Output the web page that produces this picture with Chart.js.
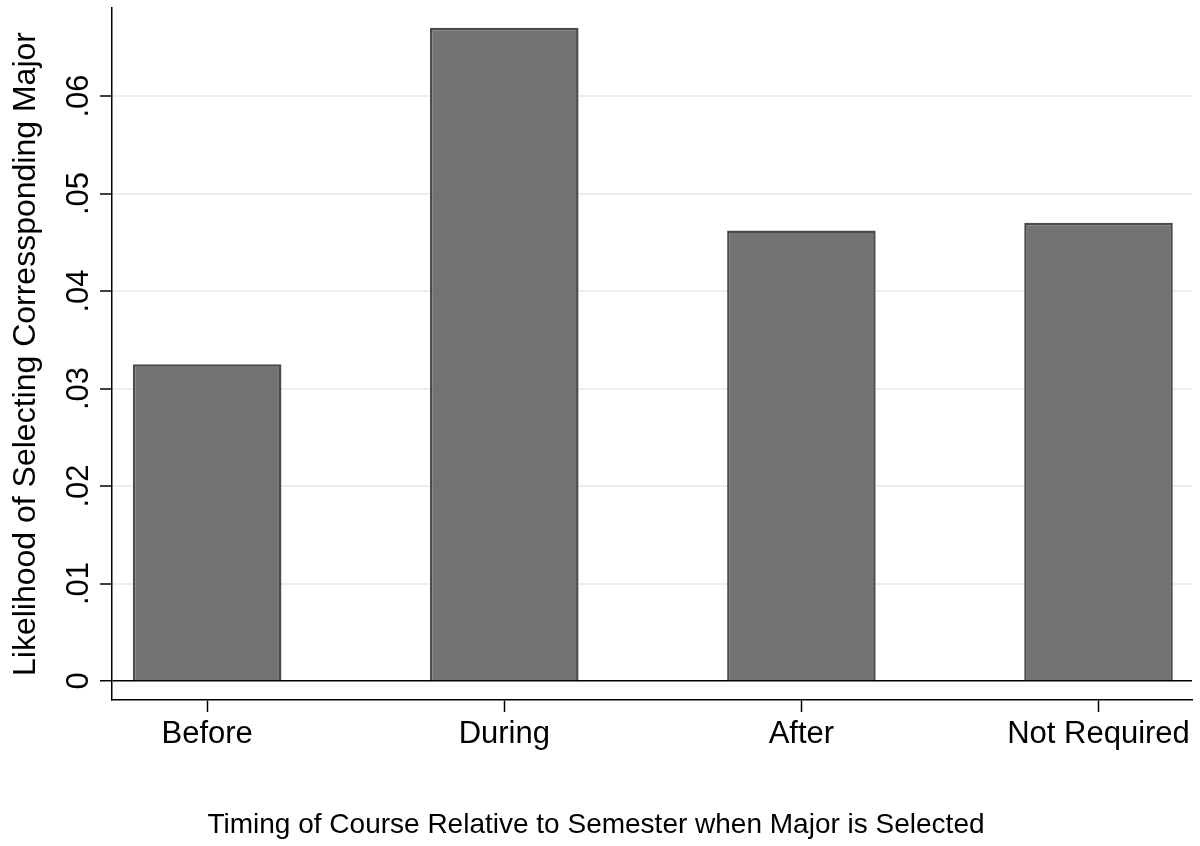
<!DOCTYPE html>
<html>
<head>
<meta charset="utf-8">
<script src="https://cdn.jsdelivr.net/npm/chart.js@4/dist/chart.umd.min.js"></script>
<style>
  html, body { margin: 0; padding: 0; background: #fff; }
  #wrap { width: 1200px; height: 846px; }
</style>
</head>
<body>
<div id="wrap"><canvas id="timingChart"></canvas></div>
<script>
// categories and bar heights
const categories = ['Before', 'During', 'After', 'Not Required'];
const positions = [1, 2, 3, 4];
const likelihood = [0.0325, 0.067, 0.0462, 0.047];
const yTicks = [0, 0.01, 0.02, 0.03, 0.04, 0.05, 0.06];

const font = '"Liberation Sans", Arial, sans-serif';

const ctx = document.getElementById('timingChart').getContext('2d');
const timingChart = new Chart(ctx, {
    type: 'bar',
    data: {
        datasets: [{
            label: 'Likelihood',
            data: positions.map((p, i) => ({ x: p, y: likelihood[i] })),
            backgroundColor: '#737373',
            borderColor: '#4a4a4a',
            borderWidth: 2.5,
            barPercentage: 0.5,
            categoryPercentage: 1
        }]
    },
    options: {
        responsive: true,
        maintainAspectRatio: false,
        animation: false,
        layout: { padding: { top: 8, right: 8, left: 0, bottom: 0 } },
        plugins: {
            legend: { display: false },
            tooltip: { enabled: false },
            // x title is centred on the whole picture, not on the plot
            title: {
                display: true,
                position: 'bottom',
                text: 'Timing of Course Relative to Semester when Major is Selected',
                color: '#000',
                font: { family: font, size: 28, weight: 'normal' },
                padding: { top: 0, bottom: 4 }
            }
        },
        scales: {
            x: {
                type: 'linear',
                offset: false,
                min: 0.6796,
                max: 4.3147,
                afterBuildTicks: (scale) => {
                    scale.ticks = positions.map(v => ({ value: v }));
                },
                afterFit: (scale) => { scale.height = 108.4; },
                ticks: {
                    color: '#000',
                    font: { family: font, size: 31 },
                    padding: 4,
                    maxRotation: 0,
                    autoSkip: false,
                    callback: (v) => categories[v - 1]
                },
                grid: {
                    offset: false,
                    drawOnChartArea: false,
                    tickLength: 12,
                    tickColor: '#000',
                    tickWidth: 1.5
                },
                border: { display: true, color: '#000', width: 1.5 }
            },
            y: {
                min: -0.001949,
                max: 0.06903,
                afterBuildTicks: (scale) => {
                    scale.ticks = yTicks.map(v => ({ value: v }));
                },
                afterFit: (scale) => {
                    scale.width = 112;
                    scale.paddingTop = 0;
                    scale.paddingBottom = 0;
                },
                ticks: {
                    color: '#000',
                    font: { family: font, size: 31 },
                    minRotation: 90,
                    maxRotation: 90,
                    crossAlign: 'center',
                    padding: -1,
                    callback: (v) => v === 0 ? '0' : v.toFixed(2).replace(/^0/, '')
                },
                grid: {
                    color: (c) => c.tick && c.tick.value === 0 ? '#000' : '#e8eff1',
                    lineWidth: (c) => c.tick && c.tick.value === 0 ? 1.5 : 2,
                    tickLength: 12,
                    tickColor: '#000',
                    tickWidth: 1.5
                },
                border: { display: true, color: '#000', width: 1.5 },
                title: {
                    display: true,
                    text: 'Likelihood of Selecting Corressponding Major',
                    color: '#000',
                    font: { family: font, size: 32 },
                    padding: { top: 7, bottom: 0 }
                }
            }
        }
    }
});
</script>
</body>
</html>
